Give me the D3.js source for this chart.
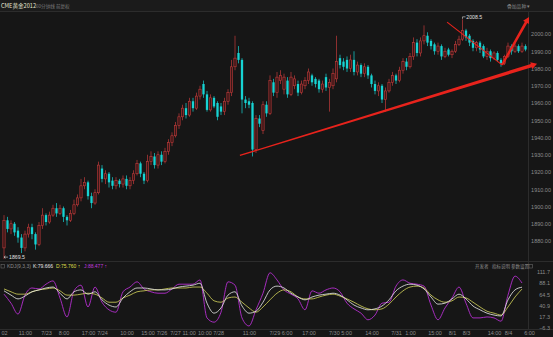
<!DOCTYPE html>
<html>
<head>
<meta charset="utf-8">
<title>CME黄金2012</title>
<style>
  body { margin: 0; background: #161616; overflow: hidden; }
  svg { display: block; font-family: "Liberation Sans", Arial, "Noto Sans CJK SC", sans-serif; }
  .tick text { fill: #8c8c8c; font-size: 5.5px; }
  .domain { display: none; }
  .tick line { display: none; }
  .sep { stroke: #2c2c2c; stroke-width: 1; shape-rendering: crispedges; }
  .cn { font-family: "Noto Sans CJK SC", sans-serif; }
</style>
<script src="https://d3js.org/d3.v7.min.js"></script>
</head>
<body>
<div id="container"></div>
<script>
// 60 minute candles, CME gold
var opens = [1876,1892,1887,1890,1886,1882,1876,1884,1888,1884,
  1878,1889,1895,1891,1895,1899,1896,1899,1894,1892,
  1896,1901,1905,1912,1914,1906,1902,1908,1922,1916,
  1919,1915,1912,1915,1913,1916,1912,1915,1919,1925,
  1919,1915,1926,1929,1924,1930,1926,1932,1937,1941,
  1947,1952,1957,1953,1961,1957,1964,1971,1965,1956,
  1963,1960,1958,1955,1961,1966,1981,1989,1985,1962,
  1961,1960,1933,1951,1944,1959,1954,1972,1966,1973,
  1968,1973,1965,1970,1971,1966,1970,1973,1976,1974,
  1973,1968,1975,1969,1970,1974,1986,1984,1985,1980,
  1985,1978,1982,1977,1981,1976,1971,1967,1970,1962,
  1967,1972,1976,1973,1979,1984,1981,1987,1995,1989,
  1996,1999,1996,1994,1990,1993,1987,1991,1988,1990,
  1994,1997,2002,1999,1996,1992,1995,1993,1987,1990,
  1986,1989,1985,1983,1987,1993,1990,1993,1990,1993]

var highs = [1895,1894,1892,1891,1888,1884,1886,1890,1890,1885,
  1891,1899,1896,1897,1901,1902,1901,1900,1895,1898,
  1904,1907,1916,1917,1915,1908,1910,1926,1924,1921,
  1920,1917,1917,1916,1918,1918,1917,1921,1927,1926,
  1920,1930,1932,1931,1932,1932,1934,1939,1943,1949,
  1954,1959,1960,1963,1963,1966,1970,1973,1967,1965,
  1964,1961,1960,1963,1968,1985,1999,1993,1986,1964,
  1963,1961,1953,1953,1961,1961,1976,1974,1978,1979,
  1977,1975,1978,1976,1973,1973,1975,1980,1977,1975,
  1974,1973,1977,1974,1980,1999,1988,1986,1987,1988,
  1990,1984,1983,1983,1982,1977,1973,1972,1971,1969,
  1974,1978,1977,1981,1986,1986,1989,1998,1997,1998,
  2005,2001,1997,1995,1995,1994,1992,1992,1991,1996,
  1999,2008.5,2003,2000,1997,1996,1996,1994,1992,1991,
  1990,1990,1986,1988,1995,1994,1995,1994,1995,1994]

var lows = [1869.5,1885,1884,1883,1879,1873,1874,1882,1881,1875,
  1877,1887,1889,1890,1894,1894,1895,1891,1889,1891,
  1895,1900,1903,1910,1904,1899,1901,1907,1914,1913,
  1911,1910,1910,1911,1911,1910,1910,1913,1918,1917,
  1913,1914,1924,1922,1922,1924,1925,1930,1935,1940,
  1945,1950,1951,1952,1955,1956,1962,1963,1955,1955,
  1957,1950,1953,1953,1959,1964,1979,1983,1954,1957,
  1957,1929,1931,1946,1942,1952,1953,1964,1963,1971,
  1965,1963,1964,1968,1964,1965,1968,1971,1970,1969,
  1966,1966,1967,1955,1968,1972,1980,1979,1978,1978,
  1976,1976,1975,1975,1974,1969,1965,1964,1960,1955,
  1966,1970,1971,1972,1977,1979,1980,1985,1987,1987,
  1994,1993,1991,1988,1988,1985,1986,1987,1986,1989,
  1993,1996,1996,1993,1990,1990,1989,1986,1985,1984,
  1985,1984,1981,1982,1986,1988,1989,1989,1989,1990]

var closes = [1892,1887,1890,1885,1882,1876,1884,1888,1884,1878,
  1889,1895,1891,1895,1899,1896,1899,1894,1892,1896,
  1901,1905,1912,1914,1906,1902,1908,1924,1916,1919,
  1914,1912,1915,1913,1916,1912,1915,1919,1925,1919,
  1915,1926,1929,1924,1930,1926,1932,1937,1941,1947,
  1952,1957,1953,1961,1957,1964,1968,1965,1956,1963,
  1958,1952,1955,1961,1966,1981,1986,1985,1962,1960,
  1959,1933,1951,1948,1959,1954,1973,1966,1975,1976,
  1975,1965,1975,1974,1966,1971,1973,1978,1972,1971,
  1968,1971,1969,1972,1977,1984,1982,1981,1980,1985,
  1978,1982,1977,1981,1976,1971,1967,1970,1962,1967,
  1972,1976,1973,1979,1984,1981,1987,1995,1989,1996,
  1999,1995,1993,1990,1993,1987,1990,1988,1990,1994,
  1997,2002,1998,1995,1992,1995,1991,1987,1990,1986,
  1989,1985,1983,1987,1993,1990,1993,1990,1993,1991]

// KDJ(9,3,3), read every second bar
var kVals = [72,63,55,61,70,74,78,80,67,55,70,74,65,70,53,42,38,57,70,78,
  78,76,74,74,76,80,82,84,88,46,25,36,63,70,40,25,29,48,74,82,
  78,67,59,53,59,63,65,67,63,53,42,36,32,34,40,53,72,82,86,84,
  76,59,44,46,55,65,55,40,32,25,21,19,53,74,79.666]
var dVals = [76,70,65,65,70,74,76,78,72,63,63,65,67,65,57,48,48,57,63,70,
  72,74,74,76,78,78,78,80,80,67,51,48,57,59,48,36,27,38,53,67,
  74,70,59,55,55,59,63,65,61,55,48,40,34,32,34,44,59,72,80,82,
  78,63,53,48,51,59,57,48,38,29,25,21,38,59,75.76]
var jVals = [65,46,23,63,78,76,86,93,57,17,72,84,38,80,48,32,27,70,80,91,
  76,70,67,67,76,86,86,86,95,15,6,27,91,84,15,-2,32,67,110,95,
  74,65,55,32,72,67,74,78,70,46,34,25,11,21,46,48,82,95,88,86,
  82,42,11,36,57,80,46,15,15,17,15,8,63,103,88.477]

var priceTicks = [2000,1990,1980,1970,1960,1950,1940,1930,1920,1910,1900,1890,1880]
var kdjTicks = [111.7,88.1,64.5,40.9,17.3,-6.3]
var timeIdx = [0,6,12,17,24,28,35,41,45,51,59,70,79,87,96,105,112,116,123,128,132,140,144,150]
var timeText = ["02","11:00","7/23","8:00","17:00","7/24","10:00","15:00","7/26","7/27 11:00",
  "10:00 7/28","11:00","7/29 6:00","17:00","7/30 5:00","14:00","7/31","1:00","15:00","8/1",
  "8/3","14:00","8/4","6:00"]

// hand-drawn annotations, in [bar index, price]
var trendLine = [[67.4, 1929.6], [152.3, 1982.7]]
var fallLine = [[126.6, 2006.9], [142.3, 1982.1]]
var riseLine = [[142.3, 1982.1], [150, 2009.8]]

var width = 553, height = 337,
    upColor = "#c23b3b", downColor = "#17d3d3", bw = 2.3

var x = d3.scaleLinear().domain([0, closes.length - 1]).range([4, 525.5])
var y = d3.scaleLinear().domain([1880, 2000]).range([241, 34])
var yk = d3.scaleLinear().domain([-6.3, 111.7]).range([328, 272])

var svg = d3.select("#container").append("svg")
    .attr("width", width)
    .attr("height", height)

svg.append("rect").attr("width", width).attr("height", height).attr("fill", "#161616")
svg.append("rect").attr("width", width).attr("height", 11).attr("fill", "#1b1b1b")

svg.append("line").attr("class", "sep").attr("x1", 0).attr("x2", width).attr("y1", 11.5).attr("y2", 11.5)
svg.append("line").attr("class", "sep").attr("x1", 0).attr("x2", width).attr("y1", 261.5).attr("y2", 261.5)
svg.append("line").attr("class", "sep").attr("x1", 0).attr("x2", width).attr("y1", 329.5).attr("y2", 329.5)
svg.append("line").attr("class", "sep").attr("x1", 528.5).attr("x2", 528.5).attr("y1", 12).attr("y2", 329)

// header
svg.append("text").attr("class", "cn").attr("x", 1).attr("y", 7.5)
  .attr("fill", "#e6e6d2").attr("font-size", "5.6px").text("CME黄金2012")
svg.append("text").attr("class", "cn").attr("x", 36).attr("y", 7.5)
  .attr("fill", "#7c7c7c").attr("font-size", "4.6px").text("60分钟线 前复权")
svg.append("text").attr("class", "cn").attr("x", 507).attr("y", 7.5)
  .attr("fill", "#8c8c8c").attr("font-size", "4.8px").text("叠加品种 ▾")

// price axis
svg.append("g")
  .attr("transform", "translate(551,0)")
  .call(d3.axisLeft(y).tickValues(priceTicks).tickSize(0).tickPadding(0).tickFormat(d3.format(".2f")))
  .selectAll("text").attr("font-size", "5.2px")

// candles
var bars = svg.append("g").selectAll("g")
  .data(closes)
  .enter().append("g")

bars.append("line")
  .attr("x1", function(d, i) { return x(i) })
  .attr("x2", function(d, i) { return x(i) })
  .attr("y1", function(d, i) { return y(highs[i]) })
  .attr("y2", function(d, i) { return y(lows[i]) })
  .attr("stroke", function(d, i) { return d >= opens[i] ? upColor : downColor })
  .attr("stroke-width", 0.7)

bars.append("rect")
  .attr("x", function(d, i) { return x(i) - bw / 2 })
  .attr("y", function(d, i) { return y(Math.max(d, opens[i])) })
  .attr("width", bw)
  .attr("height", function(d, i) { return Math.max(0.6, Math.abs(y(d) - y(opens[i]))) })
  .attr("fill", function(d, i) { return d >= opens[i] ? "#3b1818" : downColor })
  .attr("stroke", function(d, i) { return d >= opens[i] ? upColor : "none" })
  .attr("stroke-width", 0.6)

// high / low markers
var hi = d3.maxIndex(highs), lo = d3.minIndex(lows)
svg.append("path")
  .attr("d", "M" + x(hi) + "," + (y(highs[hi]) - 0.5) + "v-2h3")
  .attr("fill", "none").attr("stroke", "#dddddd").attr("stroke-width", 0.6)
svg.append("text").attr("x", x(hi) + 3.8).attr("y", y(highs[hi]) - 0.8)
  .attr("fill", "#e0e0e0").attr("font-size", "5.2px").text(d3.format(".1f")(highs[hi]))
svg.append("path")
  .attr("d", "M" + (x(lo) + 4) + "," + (y(lows[lo]) - 2) + "h-4l1.5,-1.2m-1.5,1.2l1.5,1.2")
  .attr("fill", "none").attr("stroke", "#dddddd").attr("stroke-width", 0.6)
svg.append("text").attr("x", x(lo) + 5).attr("y", y(lows[lo]) - 0.3)
  .attr("fill", "#e0e0e0").attr("font-size", "5.2px").text(d3.format(".1f")(lows[lo]))

// red annotations
function pt(p) { return [x(p[0]), y(p[1])] }
function arrow(a, b, w0, w1, headLen, headW) {
  var p0 = pt(a), p1 = pt(b),
      dx = p1[0] - p0[0], dy = p1[1] - p0[1], len = Math.sqrt(dx * dx + dy * dy),
      ux = dx / len, uy = dy / len, nx = -uy, ny = ux,
      sx = p1[0] - ux * headLen, sy = p1[1] - uy * headLen
  return [
    [p0[0] + nx * w0 / 2, p0[1] + ny * w0 / 2],
    [sx + nx * w1 / 2, sy + ny * w1 / 2],
    [sx + nx * headW, sy + ny * headW],
    p1,
    [sx - nx * headW, sy - ny * headW],
    [sx - nx * w1 / 2, sy - ny * w1 / 2],
    [p0[0] - nx * w0 / 2, p0[1] - ny * w0 / 2]
  ]
}
var red = "#e8231c"
svg.append("polygon").attr("points", arrow(trendLine[0], trendLine[1], 1.2, 3.6, 6, 3.6).join(" ")).attr("fill", red)
svg.append("line")
  .attr("x1", pt(fallLine[0])[0]).attr("y1", pt(fallLine[0])[1])
  .attr("x2", pt(fallLine[1])[0]).attr("y2", pt(fallLine[1])[1])
  .attr("stroke", red).attr("stroke-width", 1.1)
svg.append("polygon").attr("points", arrow(riseLine[0], riseLine[1], 2.2, 2.8, 6, 3.4).join(" ")).attr("fill", red)

// KDJ panel
svg.append("rect").attr("x", 1).attr("y", 264.5).attr("width", 3.5).attr("height", 3.5)
  .attr("fill", "none").attr("stroke", "#777").attr("stroke-width", 0.5)
svg.append("text").attr("x", 7).attr("y", 268).attr("fill", "#8c8c8c").attr("font-size", "5px").text("KDJ(9,3,3)")
svg.append("text").attr("x", 33).attr("y", 268).attr("fill", "#e6e6e6").attr("font-size", "5px").text("K:" + d3.format(".3f")(kVals[kVals.length - 1]))
svg.append("text").attr("x", 56).attr("y", 268).attr("fill", "#dede4a").attr("font-size", "5px").text("D:" + d3.format(".3f")(dVals[dVals.length - 1]) + " ↑")
svg.append("text").attr("x", 84).attr("y", 268).attr("fill", "#c238de").attr("font-size", "5px").text("J:" + d3.format(".3f")(jVals[jVals.length - 1]) + " ↑")

svg.append("text").attr("class", "cn").attr("x", 475).attr("y", 268).attr("fill", "#8c8c8c").attr("font-size", "4.5px").text("开发者")
svg.append("text").attr("class", "cn").attr("x", 492).attr("y", 268).attr("fill", "#8c8c8c").attr("font-size", "4.5px").text("指标说明")
svg.append("text").attr("class", "cn").attr("x", 511).attr("y", 268).attr("fill", "#8c8c8c").attr("font-size", "4.5px").text("参数设置")
svg.append("rect").attr("x", 529).attr("y", 264.5).attr("width", 3.5).attr("height", 3.5)
  .attr("fill", "none").attr("stroke", "#777").attr("stroke-width", 0.5)

svg.append("g")
  .attr("transform", "translate(550,0)")
  .call(d3.axisLeft(yk).tickValues(kdjTicks).tickSize(0).tickPadding(0).tickFormat(d3.format(".1f")))
  .selectAll("text").attr("font-size", "5px")

var kdjIdx = d3.range(0, closes.length, 2)
var kline = d3.line()
  .x(function(d, k) { return x(kdjIdx[k]) })
  .y(function(d) { return yk(d) })
  .curve(d3.curveMonotoneX)

svg.append("path").datum(jVals).attr("d", kline).attr("fill", "none").attr("stroke", "#b52fd0").attr("stroke-width", 0.9)
svg.append("path").datum(dVals).attr("d", kline).attr("fill", "none").attr("stroke", "#d6d65a").attr("stroke-width", 0.8)
svg.append("path").datum(kVals).attr("d", kline).attr("fill", "none").attr("stroke", "#ececec").attr("stroke-width", 0.8)

// time axis
svg.append("g")
  .attr("transform", "translate(0,329)")
  .call(d3.axisBottom(x).tickValues(timeIdx).tickSize(0).tickPadding(2)
    .tickFormat(function(d, i) { return timeText[i] }))
  .selectAll("text").attr("font-size", "4.8px").attr("fill", "#8c8c8c")
</script>
</body>
</html>
